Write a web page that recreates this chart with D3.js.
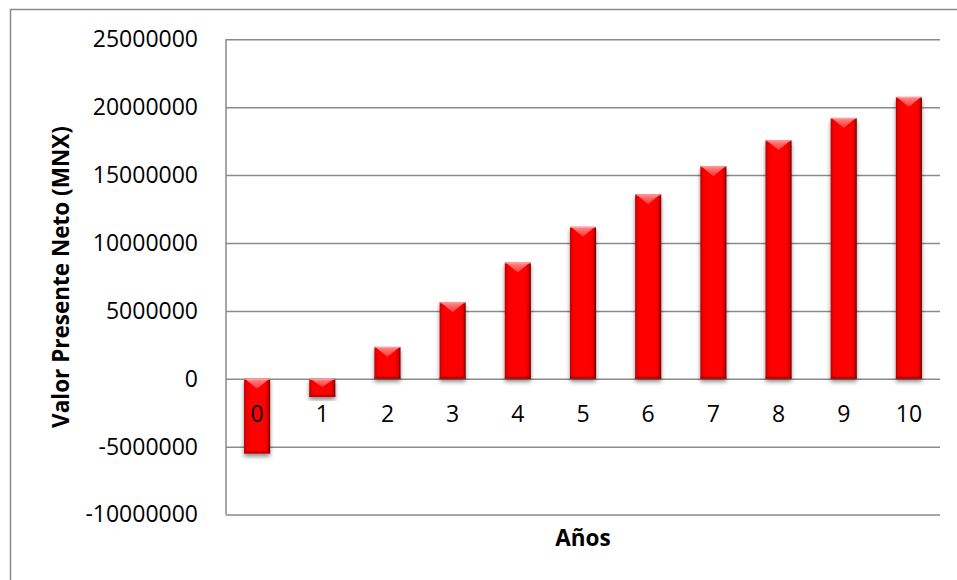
<!DOCTYPE html>
<html>
<head>
<meta charset="utf-8">
<script src="https://cdn.jsdelivr.net/npm/d3@7"></script>
<style>
  html, body { margin: 0; padding: 0; background: #fff; }
  svg { display: block; }
  text { font-family: "Open Sans", "Noto Sans", sans-serif; fill: #000; }
</style>
</head>
<body>
<svg id="chart" width="957" height="580"></svg>
<script>
const categories = ["0", "1", "2", "3", "4", "5", "6", "7", "8", "9", "10"];
const values = [-5500000, -1330000, 2350000, 5640000, 8560000, 11190000, 13590000, 15660000, 17570000, 19210000, 20760000];
const yTicks = [-10000000, -5000000, 0, 5000000, 10000000, 15000000, 20000000, 25000000];
const xTitle = "Años";
const yTitle = "Valor Presente Neto (MNX)";

const svg = d3.select("#chart");
const plot = { left: 226, right: 940, top: 39.3, bottom: 514.6 };

// outer chart border
svg.append("rect")
  .attr("x", 10.5).attr("y", 9.5)
  .attr("width", 1200).attr("height", 1200)
  .attr("fill", "none").attr("stroke", "#8a8a8a").attr("stroke-width", 1.5);

const x = d3.scaleBand().domain(categories)
  .range([224.5, 941.5]).paddingInner(0.6).paddingOuter(0.3);
const y = d3.scaleLinear().domain([d3.min(yTicks), d3.max(yTicks)])
  .range([plot.bottom, plot.top]);

const defs = svg.append("defs");
const sideGrad = defs.append("linearGradient").attr("id", "side").attr("x1", 0).attr("x2", 1).attr("y1", 0).attr("y2", 0);
[[0, "#b80000"], [0.1, "#f00000"], [0.25, "#ff0000"], [0.8, "#ff0000"], [0.92, "#d80000"], [1, "#5a0000"]]
  .forEach(([o, c]) => sideGrad.append("stop").attr("offset", o).attr("stop-color", c));
const topGrad = defs.append("linearGradient").attr("id", "bevel").attr("x1", 0).attr("x2", 0).attr("y1", 0).attr("y2", 1);
[[0, "#ff9a9a"], [1, "#ff3a3a"]]
  .forEach(([o, c]) => topGrad.append("stop").attr("offset", o).attr("stop-color", c));
const flt = defs.append("filter").attr("id", "shadow").attr("x", "-30%").attr("y", "-10%").attr("width", "160%").attr("height", "130%");
flt.append("feDropShadow").attr("dx", 0).attr("dy", 3).attr("stdDeviation", 2.2)
  .attr("flood-color", "#000").attr("flood-opacity", 0.45);

// y axis with gridlines
const yAxis = svg.append("g")
  .attr("transform", `translate(${plot.left},0)`)
  .call(d3.axisLeft(y).tickValues(yTicks).tickSize(-(plot.right - plot.left)).tickPadding(28).tickFormat(d => String(d)));
yAxis.select(".domain").remove();
yAxis.selectAll(".tick line").attr("stroke", "#8a8a8a").attr("stroke-width", 1.5);
yAxis.selectAll(".tick text").attr("font-size", 23).attr("font-family", "'Open Sans', sans-serif").attr("fill", "#000");
svg.append("line")
  .attr("x1", plot.left).attr("x2", plot.left)
  .attr("y1", y(d3.max(yTicks))).attr("y2", y(d3.min(yTicks)))
  .attr("stroke", "#8a8a8a").attr("stroke-width", 1.5);

// bars
const data = categories.map((c, i) => ({ c, v: values[i] }));
const bars = svg.append("g").selectAll("g").data(data).join("g");
bars.each(function(d) {
  const g = d3.select(this);
  const x0 = x(d.c), w = x.bandwidth();
  const yt = y(Math.max(0, d.v)), yb = y(Math.min(0, d.v));
  const h = yb - yt;
  g.append("rect").attr("x", x0).attr("y", yt).attr("width", w).attr("height", h)
    .attr("fill", "url(#side)").attr("filter", "url(#shadow)");
  const bh = Math.min(10, h * 0.45);
  g.append("path")
    .attr("d", `M${x0 + 1},${yt} L${x0 + w - 1},${yt} L${x0 + w / 2},${yt + bh} Z`)
    .attr("fill", "url(#bevel)").attr("opacity", 0.9);
  g.append("rect").attr("x", x0).attr("y", yt).attr("width", w).attr("height", 1.2)
    .attr("fill", "#ffb0b0").attr("opacity", 0.6);
  g.append("rect").attr("x", x0).attr("y", yb - 2).attr("width", w).attr("height", 2)
    .attr("fill", "#a00000").attr("opacity", 0.7);
});

// x labels just below zero line
svg.append("g").selectAll("text").data(categories).join("text")
  .attr("x", d => x(d) + x.bandwidth() / 2)
  .attr("y", y(0) + 43)
  .attr("text-anchor", "middle")
  .attr("font-size", 23)
  .text(d => d);

// axis titles
svg.append("text")
  .attr("x", 583).attr("y", 546)
  .attr("text-anchor", "middle").attr("font-size", 22.5).attr("font-weight", "bold")
  .text(xTitle);
svg.append("text")
  .attr("transform", `translate(69,277) rotate(-90)`)
  .attr("text-anchor", "middle").attr("font-size", 22.5).attr("font-weight", "bold")
  .text(yTitle);
</script>
</body>
</html>
